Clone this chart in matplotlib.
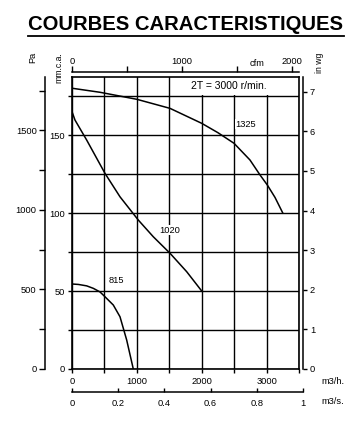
import matplotlib
matplotlib.use("Agg")
import matplotlib.pyplot as plt
from matplotlib.patches import Rectangle
from matplotlib.lines import Line2D
from matplotlib.ticker import MultipleLocator, FixedLocator, FuncFormatter

plt.rcParams['font.family'] = ['Liberation Sans', 'DejaVu Sans']

# ---- data (flow in m3/h, pressure in mm c.a.) ----
q_1325 = [0, 432, 1000, 1511, 2000, 2250, 2498, 2744, 2899, 3011, 3130, 3250]
p_1325 = [180.0, 177.4, 172.9, 167.1, 157.5, 151.5, 144.7, 134.0, 124.4, 118.0, 110.0, 100.0]
q_1020 = [0, 46, 226, 509, 740, 1022, 1253, 1511, 1768, 2000]
p_1020 = [165.0, 159.6, 146.8, 125.4, 110.4, 95.5, 84.8, 74.2, 62.4, 50.0]
q_815 = [0, 100, 226, 329, 432, 509, 637, 740, 843, 945]
p_815 = [54.5, 54.2, 53.3, 51.7, 49.4, 46.3, 41.0, 33.5, 18.6, 0.0]
curve_labels = ["1325", "1020", "815"]
label_pos = [(2680, 157), (1510, 89), (690, 57)]
speed_text = "2T = 3000 r/min."
title = "COURBES CARACTERISTIQUES"
m3s_ticks = [0, 0.2, 0.4, 0.6, 0.8, 1]
m3s_labels = ['0', '0.2', '0.4', '0.6', '0.8', '1']

X_MAX = 3500      # m3/h
Y_MAX = 187.2     # mm c.a.
PA_PER_MM = 9.81
MM_PER_INWG = 25.4
M3H_PER_CFM = 1.699

W, H = 359, 425
fig = plt.figure(figsize=(W / 100, H / 100), dpi=100)

def rect(l, r, t, b):
    return [l / W, (H - b) / H, (r - l) / W, (b - t) / H]

ax = fig.add_axes(rect(72, 299, 77, 369))
ax.set_xlim(0, X_MAX)
ax.set_ylim(0, Y_MAX)
ax.set_axisbelow(True)
ax.xaxis.set_major_locator(MultipleLocator(500))
ax.yaxis.set_major_locator(MultipleLocator(25))
ax.xaxis.set_major_formatter(FuncFormatter(lambda v, p: f"{int(round(v))}" if round(v) % 1000 == 0 else ""))
ax.yaxis.set_major_formatter(FuncFormatter(lambda v, p: f"{int(round(v))}" if round(v) % 50 == 0 else ""))
ax.grid(True, color='black', lw=1.0)
for s in ax.spines.values():
    s.set_linewidth(1.2)
ax.tick_params(axis='both', direction='out', length=3, width=1.0,
               labelsize=6.7, pad=2)
ax.tick_params(axis='x', pad=3)

# white area behind speed label
ax.add_patch(Rectangle((1600, 175.7), X_MAX - 1600, Y_MAX - 175.7,
                       facecolor='white', edgecolor='none', zorder=1))
ax.text(2420, 181.3, speed_text, ha='center', va='center', fontsize=7.5, zorder=3)

for q, p in [(q_1325, p_1325), (q_1020, p_1020), (q_815, p_815)]:
    ax.plot(q, p, color='black', lw=1.1, zorder=2, solid_joinstyle='round')
for lab, (x, y) in zip(curve_labels, label_pos):
    ax.text(x, y, lab, ha='center', va='center', fontsize=6.7,
            bbox=dict(facecolor='white', edgecolor='none', pad=0.5), zorder=3)

# Pa axis (left, offset)
ax_pa = ax.twinx()
ax_pa.set_ylim(0, Y_MAX * PA_PER_MM)
for k in ['top', 'bottom', 'right']:
    ax_pa.spines[k].set_visible(False)
ax_pa.spines['left'].set_visible(True)
ax_pa.spines['left'].set_position(('axes', -27 / 227))
ax_pa.spines['left'].set_linewidth(1.1)
ax_pa.yaxis.set_ticks_position('left')
ax_pa.yaxis.set_label_position('left')
ax_pa.yaxis.set_major_locator(MultipleLocator(500))
ax_pa.yaxis.set_minor_locator(MultipleLocator(250))
ax_pa.tick_params(axis='y', which='both', direction='out', length=4, width=1.0,
                  labelsize=6.7, pad=2)

# in wg axis (right, offset)
ax_in = ax.twinx()
ax_in.set_ylim(0, Y_MAX / MM_PER_INWG)
for k in ['top', 'bottom', 'left']:
    ax_in.spines[k].set_visible(False)
ax_in.spines['right'].set_position(('axes', 1 + 4 / 227))
ax_in.spines['right'].set_linewidth(1.1)
ax_in.yaxis.set_major_locator(MultipleLocator(1))
ax_in.tick_params(axis='y', direction='out', length=3, width=1.0,
                  labelsize=6.7, pad=2)

# cfm axis (top, offset)
ax_cfm = ax.twiny()
ax_cfm.set_xlim(0, X_MAX / M3H_PER_CFM)
for k in ['bottom', 'left', 'right']:
    ax_cfm.spines[k].set_visible(False)
ax_cfm.spines['top'].set_position(('axes', 1 + 5 / 292))
ax_cfm.spines['top'].set_linewidth(1.1)
ax_cfm.xaxis.set_major_locator(MultipleLocator(1000))
ax_cfm.xaxis.set_minor_locator(MultipleLocator(500))
ax_cfm.tick_params(axis='x', which='both', direction='out', length=4, width=1.0,
                   labelsize=6.7, pad=0)

# m3/s axis (bottom, separate)
ax_s = fig.add_axes(rect(72, 303, 388, 392))
ax_s.set_xlim(0, 1)
ax_s.patch.set_visible(False)
for k in ['top', 'left', 'right']:
    ax_s.spines[k].set_visible(False)
ax_s.spines['bottom'].set_linewidth(1.1)
ax_s.set_yticks([])
ax_s.xaxis.set_major_locator(FixedLocator(m3s_ticks))
ax_s.set_xticklabels(m3s_labels)
ax_s.tick_params(axis='x', direction='in', length=3, width=1.0,
                 labelsize=6.7, pad=5)

# unit labels
def ftext(x, y, s, **kw):
    fig.text(x / W, 1 - y / H, s, ha='center', va='center', **kw)

ftext(33, 57, "Pa", fontsize=6.7, rotation=90)
ftext(59, 68, "mm.c.a.", fontsize=6.2, rotation=90)
ftext(320, 63, "in wg", fontsize=6.2, rotation=90)
ftext(257, 64, "cfm", fontsize=6.7)
ftext(333, 381, "m3/h.", fontsize=6.7)
ftext(333, 402, "m3/s.", fontsize=6.7)

# title with underline
t = fig.text(186 / W, 1 - 25 / H, title, ha='center', va='center',
             fontsize=14.6, fontweight='bold')
fig.canvas.draw()
bb = t.get_window_extent()
fig.add_artist(Line2D([bb.x0 / W, bb.x1 / W], [(bb.y0 - 1.5) / H] * 2,
                      color='black', lw=1.3, transform=fig.transFigure))

fig.savefig("out.png", dpi=100)
